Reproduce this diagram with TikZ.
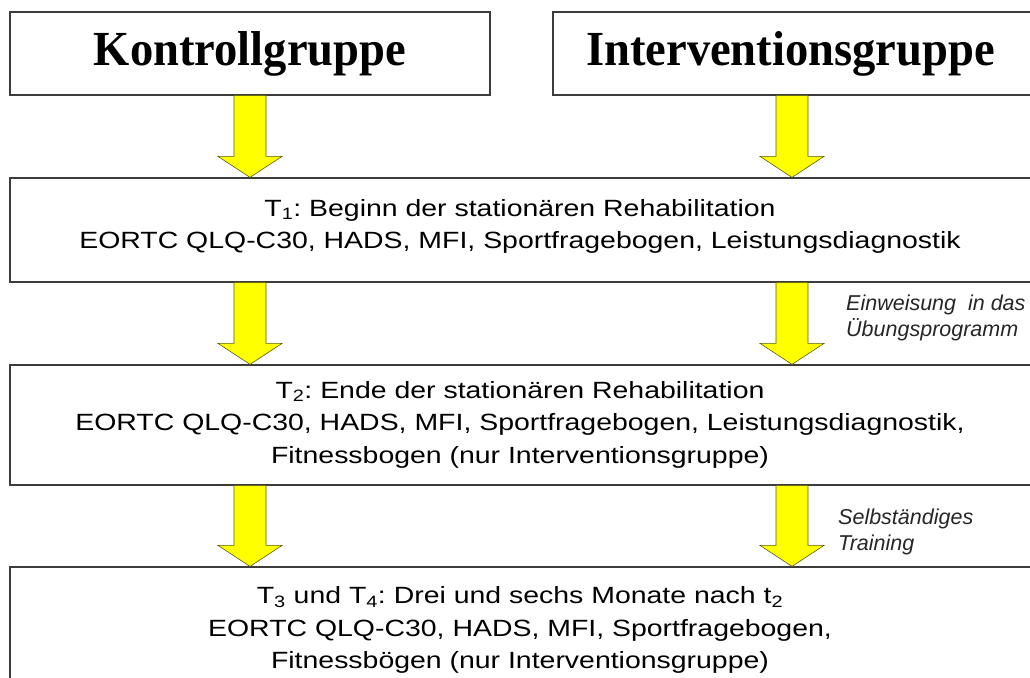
\documentclass[tikz,border=0pt]{standalone}
\usepackage{fontspec}
\setmainfont{Liberation Sans}
\newfontfamily\headfont[FakeStretch=0.95]{Liberation Serif}
\newfontfamily\bodyfont[FakeStretch=1.21]{Liberation Sans}
\newfontfamily\notefont[FakeStretch=1.0]{Liberation Sans}
\usetikzlibrary{calc}
\definecolor{boxline}{RGB}{60,60,60}
\definecolor{arrowfill}{RGB}{255,255,0}
\definecolor{arrowline}{RGB}{90,90,20}
\tikzset{
  x=1pt, y=-1pt,
  headbox/.style={draw=boxline, line width=1.2pt, fill=white, inner sep=0pt,
    minimum height=83pt, font=\headfont\bfseries\fontsize{49}{54}\selectfont},
  stagebox/.style={draw=boxline, line width=1.2pt, fill=white, inner sep=0pt,
    align=center, font=\bodyfont\frenchspacing\fontsize{23.5}{32.5}\selectfont},
  notetext/.style={inner sep=0pt, align=left, anchor=west,
    font=\notefont\itshape\fontsize{21.5}{25.5}\selectfont, text=black!85},
  yarrowstyle/.style={fill=arrowfill, draw=arrowline, line width=0.6pt, line join=miter},
}
\newcommand{\yarrowdraw}[2]{%
  \filldraw[yarrowstyle] ($(#1)+(-16,0)$) -- ($(#2)+(-16,-21)$) -- ($(#2)+(-32,-21)$)
    -- (#2) -- ($(#2)+(32,-21)$) -- ($(#2)+(16,-21)$) -- ($(#1)+(16,0)$) -- cycle;}
\begin{document}
\begin{tikzpicture}
\useasboundingbox (0,0) rectangle (1030,677);
\clip (0,0) rectangle (1030,677);
\coordinate (colL) at (250,0);
\coordinate (colR) at (792,0);
% header boxes
\node[headbox, minimum width=480pt] (kg) at (250,53.5) {Kontrollgruppe};
\node[headbox, minimum width=490pt, text width=475pt, align=center] (ig) at (798,53.5) {\hspace*{-15pt}Interventionsgruppe};
% stage boxes
\node[stagebox, minimum width=1040pt, minimum height=104pt] (t1) at (530,230)
  {\hspace*{-20pt}T\textsubscript{1}: Beginn der stationären Rehabilitation\\\hspace*{-20pt}EORTC QLQ-C30, HADS, MFI, Sportfragebogen, Leistungsdiagnostik\\[-20.5pt]\mbox{}};
\node[stagebox, minimum width=1040pt, minimum height=120pt] (t2) at (530,425)
  {\hspace*{-20pt}T\textsubscript{2}: Ende der stationären Rehabilitation\\\hspace*{-20pt}EORTC QLQ-C30, HADS, MFI, Sportfragebogen, Leistungsdiagnostik,\\\hspace*{-20pt}Fitnessbogen (nur Interventionsgruppe)\\[-26.5pt]\mbox{}};
\node[stagebox, minimum width=1040pt, minimum height=126pt] (t3) at (530,630)
  {\hspace*{-20pt}T\textsubscript{3} und T\textsubscript{4}: Drei und sechs Monate nach t\textsubscript{2}\\\hspace*{-20pt}EORTC QLQ-C30, HADS, MFI, Sportfragebogen,\\\hspace*{-20pt}Fitnessbögen (nur Interventionsgruppe)};
% arrows
\yarrowdraw{kg.south -| colL}{t1.north -| colL}
\yarrowdraw{ig.south -| colR}{t1.north -| colR}
\yarrowdraw{t1.south -| colL}{t2.north -| colL}
\yarrowdraw{t1.south -| colR}{t2.north -| colR}
\yarrowdraw{t2.south -| colL}{t3.north -| colL}
\yarrowdraw{t2.south -| colR}{t3.north -| colR}
% notes
\node[notetext] (n1) at (846,318) {Einweisung\ \ in das\\Übungsprogramm};
\node[notetext] (n2) at (838,532) {Selbständiges\\Training};
\end{tikzpicture}
\end{document}
